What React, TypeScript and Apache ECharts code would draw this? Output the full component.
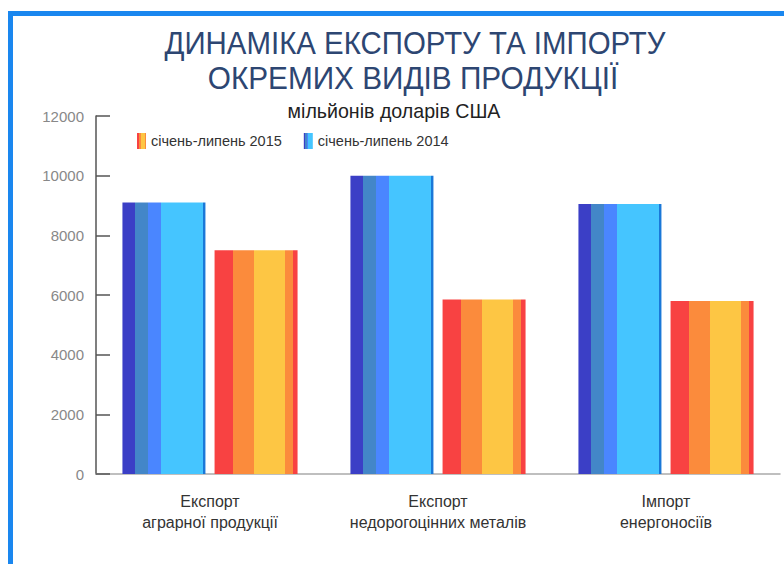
import React, { useEffect, useRef } from "react";
import * as echarts from "echarts";

const categories = ["Експорт\nаграрної продукції", "Експорт\nнедорогоцінних металів", "Імпорт\nенергоносіїв"];
const series2014 = [9100, 10000, 9050];
const series2015 = [7500, 5850, 5800];
const yTicks = { min: 0, max: 12000, interval: 2000 };
const legendNames = ["січень-липень 2015", "січень-липень 2014"];
const titleLines = ["ДИНАМІКА ЕКСПОРТУ ТА ІМПОРТУ", "ОКРЕМИХ ВИДІВ ПРОДУКЦІЇ"];
const subtitle = "мільйонів доларів США";

function stripes(parts: [number, string][]) {
  const stops: { offset: number; color: string }[] = [];
  let prev = 0;
  parts.forEach(([end, color]) => {
    stops.push({ offset: prev, color });
    stops.push({ offset: end, color });
    prev = end;
  });
  return new echarts.graphic.LinearGradient(0, 0, 1, 0, stops);
}

const blueFill = stripes([
  [0.15, "#3b3fc6"],
  [0.31, "#4386c8"],
  [0.47, "#4a86ff"],
  [0.97, "#45c5ff"],
  [1, "#1a78d8"],
]);
const orangeFill = stripes([
  [0.22, "#f84242"],
  [0.47, "#fb8b3c"],
  [0.845, "#fdc644"],
  [0.945, "#fb8b3c"],
  [1, "#f84242"],
]);

export default function App() {
  const ref = useRef<HTMLDivElement>(null);
  useEffect(() => {
    document.body.style.margin = "0";
    if (!ref.current) return;
    const chart = echarts.init(ref.current, undefined, { renderer: "svg" });
    const font = "Liberation Sans";
    chart.setOption({
      animation: false,
      backgroundColor: "#ffffff",
      textStyle: { fontFamily: font },
      graphic: [
        {
          type: "rect",
          shape: { x: 10.5, y: 13.5, width: 800, height: 600 },
          style: { fill: "none", stroke: "#1a87ef", lineWidth: 5 },
          silent: true,
        },
        {
          type: "text",
          x: 415,
          y: 43,
          scaleX: 0.92,
          style: {
            text: titleLines[0],
            textAlign: "center",
            textVerticalAlign: "middle",
            font: `32px "${font}"`,
            fill: "#2d4672",
          },
        },
        {
          type: "text",
          x: 413,
          y: 78,
          scaleX: 0.93,
          style: {
            text: titleLines[1],
            textAlign: "center",
            textVerticalAlign: "middle",
            font: `32px "${font}"`,
            fill: "#2d4672",
          },
        },
        {
          type: "text",
          x: 394,
          y: 111,
          scaleX: 0.98,
          style: {
            text: subtitle,
            textAlign: "center",
            textVerticalAlign: "middle",
            font: `20px "${font}"`,
            fill: "#222222",
          },
        },
      ],
      legend: {
        data: legendNames,
        left: 137,
        top: 133,
        padding: 0,
        icon: "rect",
        itemWidth: 9,
        itemHeight: 16,
        itemGap: 22,
        textStyle: { fontSize: 14.5, color: "#333333", fontFamily: font },
      },
      grid: { left: 96, right: 4, top: 116, bottom: 90 },
      xAxis: {
        type: "category",
        data: categories,
        axisLine: { lineStyle: { color: "#aaaaaa", width: 1.5 } },
        axisTick: { inside: true, length: 8, lineStyle: { color: "#888888", width: 1.5 } },
        axisLabel: {
          interval: 0,
          hideOverlap: false,
          color: "#333333",
          fontSize: 16,
          lineHeight: 21,
          margin: 17,
          fontFamily: font,
        },
      },
      yAxis: {
        type: "value",
        min: yTicks.min,
        max: yTicks.max,
        interval: yTicks.interval,
        splitLine: { show: false },
        axisLine: { show: true, lineStyle: { color: "#555555", width: 1.5 } },
        axisTick: { show: true, inside: true, length: 14, lineStyle: { color: "#555555", width: 1.5 } },
        axisLabel: {
          color: "#888888",
          fontSize: 15,
          margin: 12,
          fontFamily: font,
          formatter: (v: number) => String(v),
        },
      },
      series: [
        {
          name: legendNames[1],
          type: "bar",
          data: series2014,
          barWidth: 83,
          barGap: "11%",
          itemStyle: { color: blueFill },
        },
        {
          name: legendNames[0],
          type: "bar",
          data: series2015,
          barWidth: 83,
          barGap: "11%",
          itemStyle: { color: orangeFill },
        },
      ],
    });
    return () => chart.dispose();
  }, []);
  return <div ref={ref} style={{ width: 784, height: 564 }} />;
}
